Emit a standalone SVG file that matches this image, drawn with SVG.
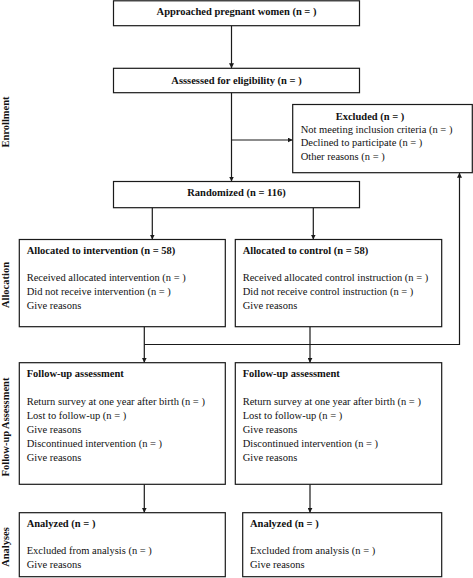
<svg xmlns="http://www.w3.org/2000/svg" width="473" height="578" viewBox="0 0 473 578">
<style>
  .box { fill: #fff; stroke: #1a1a1a; stroke-width: 1.2; }
  .ln { fill: none; stroke: #1a1a1a; stroke-width: 1.2; }
  text { font-family: "Liberation Serif", "Times New Roman", serif; font-size: 10.5px; fill: #111; }
  .b { font-weight: bold; }
  .c { text-anchor: middle; }
</style>
<defs>
  <marker id="arr" viewBox="0 0 10 10" refX="10" refY="5" markerWidth="5" markerHeight="5" orient="auto" markerUnits="userSpaceOnUse">
    <path d="M0,0 L10,5 L0,10 z" fill="#1a1a1a"/>
  </marker>
</defs>
<rect width="473" height="578" fill="#fff"/>

<g id="side-labels">
  <text class="b c" transform="translate(9,122) rotate(-90)">Enrollment</text>
  <text class="b c" transform="translate(9,285) rotate(-90)">Allocation</text>
  <text class="b c" transform="translate(9,427) rotate(-90)">Follow-up Assessment</text>
  <text class="b c" transform="translate(9,547) rotate(-90)">Analyses</text>
</g>

<g id="connectors">
  <line class="ln" x1="231.5" y1="25.7" x2="231.5" y2="68.3" marker-end="url(#arr)"/>
  <line class="ln" x1="231.5" y1="92.7" x2="231.5" y2="181.5" marker-end="url(#arr)"/>
  <line class="ln" x1="231.5" y1="140" x2="292.7" y2="140" marker-end="url(#arr)"/>
  <line class="ln" x1="152.3" y1="207.7" x2="152.3" y2="239.5" marker-end="url(#arr)"/>
  <line class="ln" x1="313.3" y1="207.7" x2="313.3" y2="239.5" marker-end="url(#arr)"/>
  <line class="ln" x1="144.3" y1="326.7" x2="144.3" y2="362.7" marker-end="url(#arr)"/>
  <line class="ln" x1="310" y1="326.7" x2="310" y2="362.7" marker-end="url(#arr)"/>
  <polyline class="ln" points="144.3,344.5 459.5,344.5 459.5,172.7" marker-end="url(#arr)"/>
  <line class="ln" x1="144.3" y1="484.3" x2="144.3" y2="512.7" marker-end="url(#arr)"/>
  <line class="ln" x1="310" y1="484.3" x2="310" y2="512.7" marker-end="url(#arr)"/>
</g>

<g id="approached">
  <rect class="box" x="113.5" y="0.8" width="246" height="24.9"/>
  <text class="b c" x="236.5" y="14.5">Approached pregnant women (n = )</text>
</g>

<g id="assessed">
  <rect class="box" x="113.5" y="68.3" width="246" height="24.4"/>
  <text class="b c" x="236.5" y="83.5">Asssessed for eligibility (n = )</text>
</g>

<g id="excluded">
  <rect class="box" x="292.7" y="104.5" width="179.6" height="68.2"/>
  <text class="b c" x="370" y="120">Excluded (n = )</text>
  <text x="300.7" y="133">Not meeting inclusion criteria (n = )</text>
  <text x="300.7" y="146">Declined to participate (n = )</text>
  <text x="300.7" y="159.5">Other reasons (n = )</text>
</g>

<g id="randomized">
  <rect class="box" x="113.5" y="181.5" width="246" height="26.2"/>
  <text class="b c" x="236.5" y="195.5">Randomized (n = 116)</text>
</g>

<g id="alloc-intervention">
  <rect class="box" x="19.3" y="239.5" width="206" height="87.2"/>
  <text class="b" x="26.7" y="253.5">Allocated to intervention (n = 58)</text>
  <text x="26.7" y="280.5">Received allocated intervention (n = )</text>
  <text x="26.7" y="295">Did not receive intervention (n = )</text>
  <text x="26.7" y="309">Give reasons</text>
</g>

<g id="alloc-control">
  <rect class="box" x="235.3" y="239.5" width="206.4" height="87.2"/>
  <text class="b" x="242.7" y="253.5">Allocated to control (n = 58)</text>
  <text x="242.7" y="280.5">Received allocated control instruction (n = )</text>
  <text x="242.7" y="295">Did not receive control instruction (n = )</text>
  <text x="242.7" y="309">Give reasons</text>
</g>

<g id="followup-intervention">
  <rect class="box" x="19.3" y="362.7" width="206" height="121.6"/>
  <text class="b" x="26.7" y="377">Follow-up assessment</text>
  <text x="26.7" y="405">Return survey at one year after birth (n = )</text>
  <text x="26.7" y="419">Lost to follow-up (n = )</text>
  <text x="26.7" y="432.5">Give reasons</text>
  <text x="26.7" y="447">Discontinued intervention (n = )</text>
  <text x="26.7" y="460.5">Give reasons</text>
</g>

<g id="followup-control">
  <rect class="box" x="235.3" y="362.7" width="206.4" height="121.6"/>
  <text class="b" x="242.7" y="377">Follow-up assessment</text>
  <text x="242.7" y="405">Return survey at one year after birth (n = )</text>
  <text x="242.7" y="419">Lost to follow-up (n = )</text>
  <text x="242.7" y="432.5">Give reasons</text>
  <text x="242.7" y="447">Discontinued intervention (n = )</text>
  <text x="242.7" y="460.5">Give reasons</text>
</g>

<g id="analyzed-intervention">
  <rect class="box" x="19.3" y="512.7" width="206" height="64"/>
  <text class="b" x="26.7" y="526.5">Analyzed (n = )</text>
  <text x="26.7" y="554">Excluded from analysis (n = )</text>
  <text x="26.7" y="568">Give reasons</text>
</g>

<g id="analyzed-control">
  <rect class="box" x="242.7" y="512.7" width="199" height="64"/>
  <text class="b" x="250" y="526.5">Analyzed (n = )</text>
  <text x="250" y="554">Excluded from analysis (n = )</text>
  <text x="250" y="568">Give reasons</text>
</g>
</svg>
